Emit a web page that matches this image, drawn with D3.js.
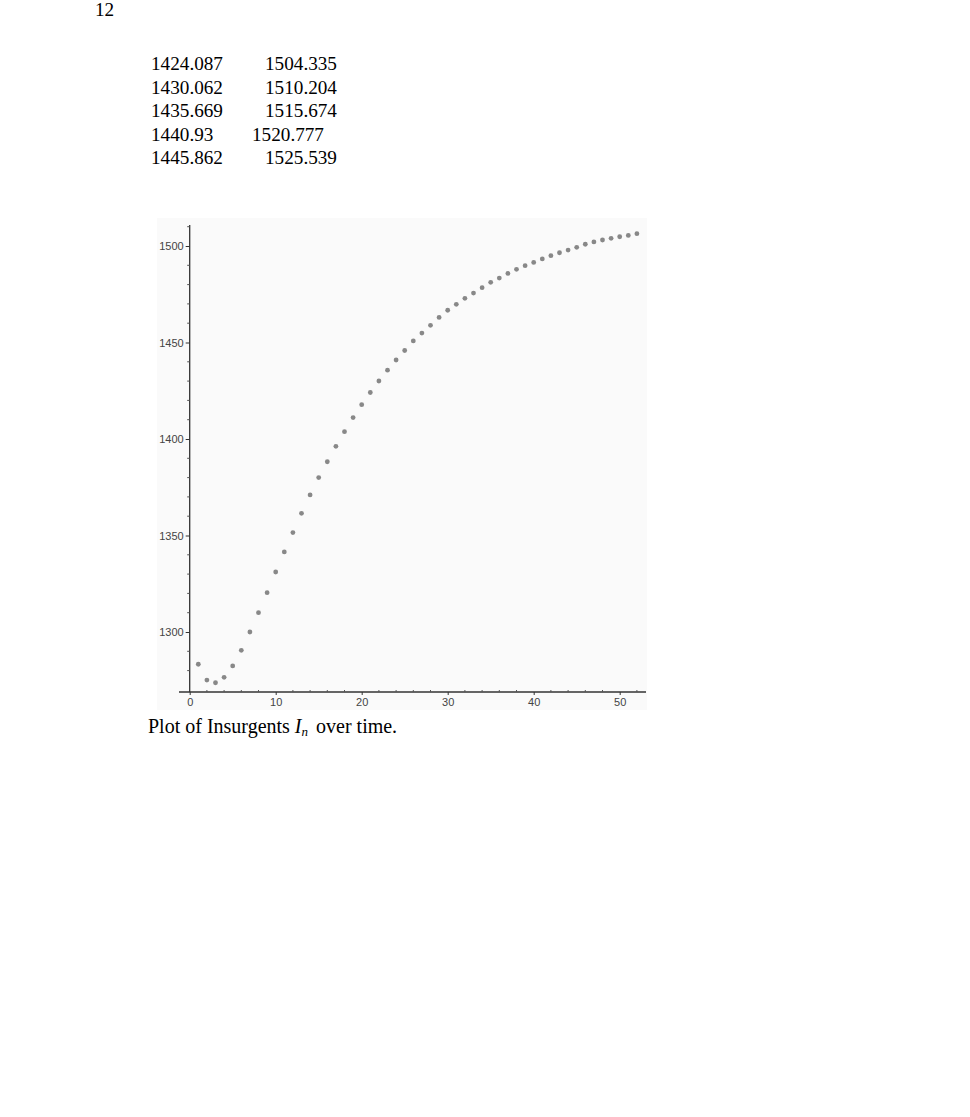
<!DOCTYPE html>
<html>
<head>
<meta charset="utf-8">
<script src="https://cdn.jsdelivr.net/npm/d3@7"></script>
<style>
  html, body { margin: 0; padding: 0; background: #fff; }
  svg { display: block; }
</style>
</head>
<body>
<svg id="chart" width="970" height="1117"></svg>
<script>
// ---- data ----
const pageNumber = "12";
const tableCol1 = ["1424.087", "1430.062", "1435.669", "1440.93", "1445.862"];
const tableCol2 = ["1504.335", "1510.204", "1515.674", "1520.777", "1525.539"];
const steps = d3.range(1, 53); // n = 1..52
const insurgents = [
  1283.3, 1275.1, 1273.7, 1276.5, 1282.4, 1290.5, 1300.0, 1310.0, 1320.4, 1331.1,
  1341.5, 1351.5, 1361.5, 1371.0, 1380.0, 1388.2, 1396.2, 1403.8, 1411.1, 1417.8,
  1424.087, 1430.062, 1435.669, 1440.93, 1445.862,
  1450.8, 1454.9, 1458.9, 1463.0, 1466.7, 1469.8, 1472.9, 1475.6, 1478.4, 1481.2,
  1483.4, 1485.8, 1487.9, 1489.8, 1491.5, 1493.3, 1495.0, 1496.5, 1497.9, 1499.3,
  1500.9, 1502.1, 1503.1, 1504.0, 1504.8, 1505.5, 1506.4
];
const xMajorTicks = [0, 10, 20, 30, 40, 50];
const yMajorTicks = [1300, 1350, 1400, 1450, 1500];

const svg = d3.select("#chart");
const serif = "'Liberation Serif', 'Times New Roman', serif";
const sans = "'Liberation Sans', Arial, sans-serif";
const fs = "19.2px";

// page number
svg.append("text").attr("x", 95).attr("y", 16)
  .style("font-family", serif).style("font-size", fs).text(pageNumber);

// table
tableCol1.forEach((t, i) => {
  svg.append("text").attr("x", 151).attr("y", 70 + i * 23.5)
    .style("font-family", serif).style("font-size", fs).text(t);
});
tableCol2.forEach((t, i) => {
  svg.append("text").attr("x", i === 3 ? 252 : 265).attr("y", 70 + i * 23.5)
    .style("font-family", serif).style("font-size", fs).text(t);
});

// plot background
svg.append("rect").attr("x", 157).attr("y", 218).attr("width", 490).attr("height", 492)
  .attr("fill", "#fafafa");

// scales
const x = d3.scaleLinear().domain([0, 50]).range([189.7, 619.7]);
const y = d3.scaleLinear().domain([1300, 1500]).range([632, 246]);
const axisY = 692;
const axisX = x(0);

// x axis
const gx = svg.append("g").attr("transform", `translate(0,${axisY})`);
gx.append("line").attr("x1", 179).attr("x2", 646).attr("y1", 0).attr("y2", 0)
  .attr("stroke", "#333").attr("stroke-width", 1.3);
const xMinor = d3.range(0, 54, 2).filter(v => v % 10 !== 0);
gx.selectAll(".xminor").data(xMinor).enter().append("line")
  .attr("x1", d => x(d)).attr("x2", d => x(d)).attr("y1", 0).attr("y2", -2)
  .attr("stroke", "#555").attr("stroke-width", 1);
const xAxis = d3.axisBottom(x).tickValues(xMajorTicks).tickSize(3).tickPadding(3)
  .tickFormat(d3.format("d"));
const gxa = svg.append("g").attr("transform", `translate(0,${axisY})`).call(xAxis);
gxa.select(".domain").remove();
gxa.selectAll(".tick line").attr("stroke", "#333");
gxa.selectAll(".tick text").style("font-family", sans)
  .style("font-size", "11px").attr("fill", "#444");

// y axis
const gy = svg.append("g").attr("transform", `translate(${axisX},0)`);
gy.append("line").attr("x1", 0).attr("x2", 0).attr("y1", 225).attr("y2", axisY)
  .attr("stroke", "#333").attr("stroke-width", 1.3);
const yMinor = d3.range(1280, 1511, 10).filter(v => v % 50 !== 0);
gy.selectAll(".yminor").data(yMinor).enter().append("line")
  .attr("x1", 0).attr("x2", -2.5).attr("y1", d => y(d)).attr("y2", d => y(d))
  .attr("stroke", "#555").attr("stroke-width", 1);
const yAxis = d3.axisLeft(y).tickValues(yMajorTicks).tickSize(4).tickPadding(2)
  .tickFormat(d3.format("d"));
const gya = svg.append("g").attr("transform", `translate(${axisX},0)`).call(yAxis);
gya.select(".domain").remove();
gya.selectAll(".tick line").attr("stroke", "#333");
gya.selectAll(".tick text").style("font-family", sans)
  .style("font-size", "11px").attr("fill", "#444");

// points
svg.append("g").selectAll("circle").data(steps).enter().append("circle")
  .attr("cx", d => x(d))
  .attr("cy", (d, i) => y(insurgents[i]))
  .attr("r", 2.4)
  .attr("fill", "#888");

// caption
const cap = svg.append("text").attr("x", 148).attr("y", 733)
  .style("font-family", serif).style("font-size", "20px");
cap.append("tspan").text("Plot of Insurgents ");
cap.append("tspan").style("font-style", "italic").text("I");
cap.append("tspan").style("font-style", "italic").style("font-size", "13px").attr("dy", 3).text("n");
cap.append("tspan").attr("dy", -3).attr("dx", 3).text(" over time.");
</script>
</body>
</html>
